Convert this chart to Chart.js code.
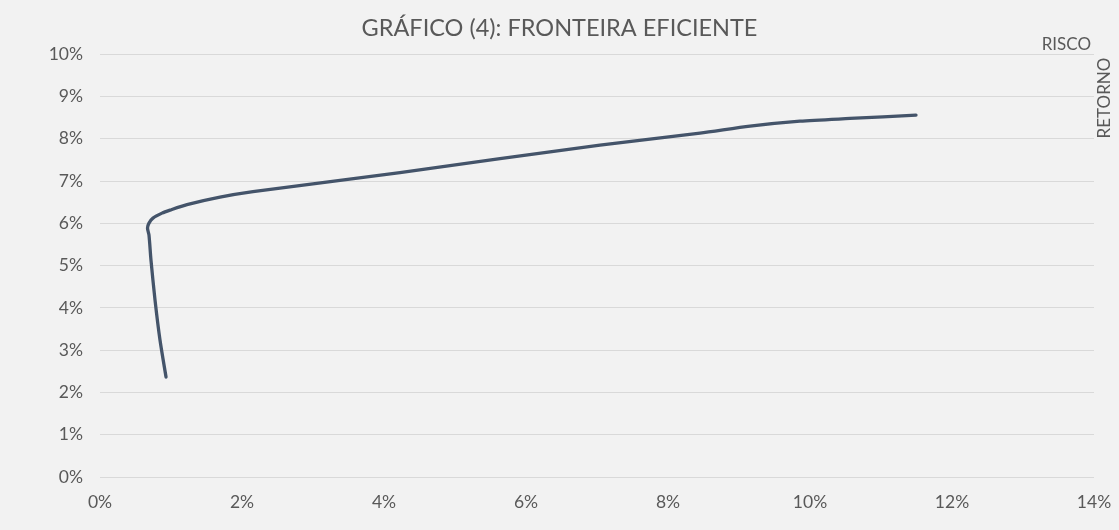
<!DOCTYPE html>
<html>
<head>
<meta charset="utf-8">
<script src="https://cdn.jsdelivr.net/npm/chart.js@4.4.0/dist/chart.umd.min.js"></script>
<style>
  html, body { margin: 0; padding: 0; background: #F2F2F2; }
  #wrap { width: 1119px; height: 530px; }
</style>
</head>
<body>
<div id="wrap"><canvas id="c" width="1119" height="530"></canvas></div>
<script>
// Efficient frontier: risk (x, %) and return (y, %)
const riskValues = [0.93, 0.845, 0.775, 0.718, 0.690, 0.669, 0.690, 0.746, 0.873, 0.986, 1.225, 1.690, 2.155, 4.225, 5.634, 7.042, 8.451, 9.155, 9.859, 10.563, 11.493];
const returnValues = [2.364, 3.239, 4.184, 5.130, 5.721, 5.887, 6.005, 6.123, 6.241, 6.312, 6.442, 6.619, 6.749, 7.199, 7.530, 7.849, 8.132, 8.298, 8.416, 8.480, 8.558];
const xTicks = [0, 2, 4, 6, 8, 10, 12, 14];
const yTicks = [0, 1, 2, 3, 4, 5, 6, 7, 8, 9, 10];
const titleText = 'GRÁFICO (4): FRONTEIRA EFICIENTE';
const xAxisName = 'RISCO';
const yAxisName = 'RETORNO';

const points = riskValues.map((x, i) => ({ x: x, y: returnValues[i] }));
const FONT = 'Lato, "Open Sans", sans-serif';
const TEXT = '#595959';

const bgPlugin = {
  id: 'bg',
  beforeDraw(chart) {
    const ctx = chart.ctx;
    ctx.save();
    ctx.fillStyle = '#F2F2F2';
    ctx.fillRect(0, 0, chart.width, chart.height);
    ctx.restore();
  }
};

const axisNames = {
  id: 'axisNames',
  afterDraw(chart) {
    const ctx = chart.ctx;
    ctx.save();
    ctx.fillStyle = TEXT;
    ctx.font = '17px ' + FONT;
    ctx.textAlign = 'right';
    ctx.textBaseline = 'middle';
    ctx.fillText(xAxisName, 1091, 45);
    ctx.translate(1105, 98);
    ctx.rotate(-Math.PI / 2);
    ctx.textAlign = 'center';
    ctx.fillText(yAxisName, 0, 0);
    ctx.restore();
  }
};

new Chart(document.getElementById('c'), {
  type: 'scatter',
  data: {
    datasets: [{
      data: points,
      showLine: true,
      borderColor: '#44546A',
      backgroundColor: '#44546A',
      borderWidth: 3.3,
      pointRadius: 0,
      tension: 0.25,
      borderCapStyle: 'round',
      borderJoinStyle: 'round'
    }]
  },
  options: {
    responsive: false,
    animation: false,
    layout: { padding: 0 },
    plugins: {
      legend: { display: false },
      tooltip: { enabled: false },
      title: {
        display: true,
        text: titleText,
        color: TEXT,
        font: { family: FONT, size: 23.5, weight: 'normal' },
        padding: { top: 14, bottom: 12 }
      }
    },
    scales: {
      x: {
        type: 'linear',
        min: 0, max: 14,
        afterBuildTicks(scale) { scale.ticks = xTicks.map(v => ({ value: v })); },
        afterFit(scale) { scale.height = 53; scale.paddingRight = 25; scale.paddingLeft = 0; },
        grid: { display: false, drawTicks: false },
        border: { display: false },
        ticks: {
          color: TEXT,
          font: { family: FONT, size: 17.5 },
          padding: 15,
          maxRotation: 0,
          callback: v => v + '%'
        }
      },
      y: {
        type: 'linear',
        min: 0, max: 10,
        afterBuildTicks(scale) { scale.ticks = yTicks.map(v => ({ value: v })); },
        afterFit(scale) { scale.width = 100; },
        grid: { color: '#D9D9D9', lineWidth: 1, drawTicks: false },
        border: { display: false },
        ticks: {
          color: TEXT,
          font: { family: FONT, size: 17.5 },
          padding: 17,
          callback: v => v + '%'
        }
      }
    }
  },
  plugins: [bgPlugin, axisNames]
});
</script>
</body>
</html>
